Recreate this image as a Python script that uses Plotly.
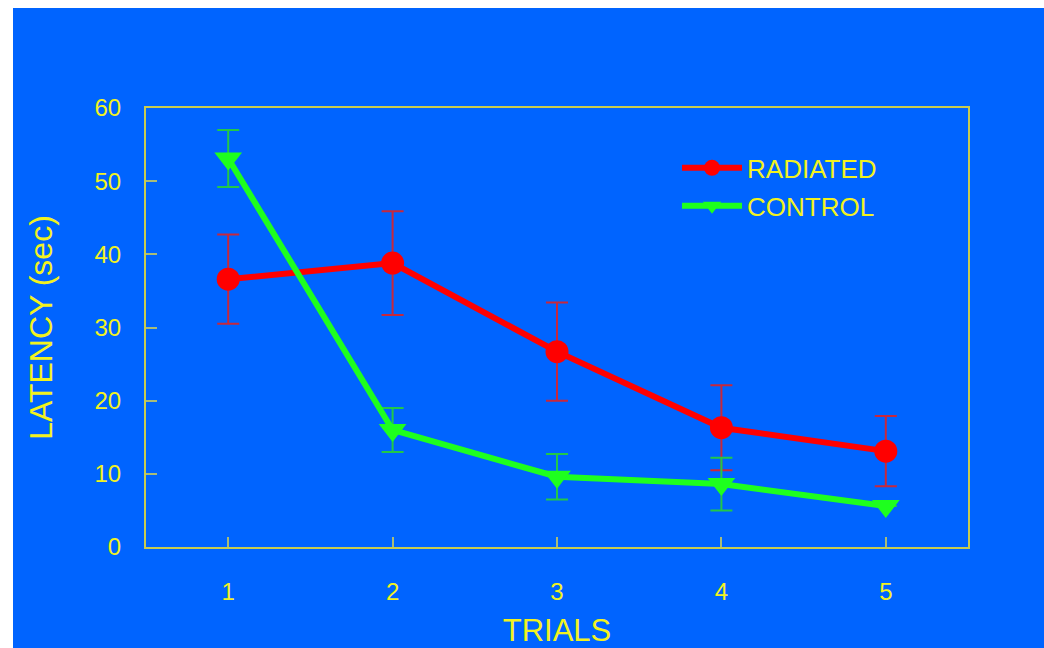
import plotly.graph_objects as go

trials = [1, 2, 3, 4, 5]
radiated = [36.6, 38.8, 26.7, 16.3, 13.1]
radiated_err = [6.1, 7.1, 6.7, 5.8, 4.8]
control = [53.1, 16.0, 9.6, 8.6, 5.6]
control_err = [3.9, 3.0, 3.1, 3.6, 0.0]
series_names = ["RADIATED", "CONTROL"]
y_ticks = [0, 10, 20, 30, 40, 50, 60]

BLUE = "#0064ff"
YELLOW = "#f2f21e"
AXIS = "#c8cc50"
TICK = "#a8bc78"
FONT = "Liberation Sans, Arial, sans-serif"

fig = go.Figure()
fig.add_trace(go.Scatter(
    x=trials, y=radiated, name=series_names[0], mode="lines+markers",
    line=dict(color="#ff0000", width=6),
    marker=dict(symbol="circle", size=23, color="#ff0000"),
    error_y=dict(type="data", array=radiated_err, color="#c8283c", thickness=2, width=11),
    legendgroup="a",
))
fig.add_trace(go.Scatter(
    x=trials, y=control, name=series_names[1], mode="lines+markers",
    line=dict(color="#1eff1e", width=6),
    marker=dict(symbol="triangle-down", size=24, color="#1eff1e"),
    error_y=dict(type="data", array=control_err, color="#22c848", thickness=2, width=11),
    legendgroup="b",
))

W, H = 1044, 648
ml, mr, mt, mb = 146, 76, 108, 101
pw, ph = W - ml - mr, H - mt - mb
# white strips at the left (13px) and top (8px); the rest of the page is blue
fig.add_shape(type="rect", xref="paper", yref="paper", layer="below",
              x0=-ml / pw, x1=(13 - ml) / pw, y0=-mb / ph, y1=(H - mb) / ph,
              fillcolor="white", line=dict(width=0))
fig.add_shape(type="rect", xref="paper", yref="paper", layer="below",
              x0=-ml / pw, x1=(W - ml) / pw, y0=(H - 8 - mb) / ph, y1=(H - mb) / ph,
              fillcolor="white", line=dict(width=0))

fig.update_layout(
    width=W, height=H,
    margin=dict(l=ml, r=mr, t=mt, b=mb, autoexpand=False),
    paper_bgcolor=BLUE, plot_bgcolor=BLUE,
    font=dict(family=FONT, color=YELLOW, size=24),
    showlegend=True,
    legend=dict(x=0.646, y=0.917, xanchor="left", yanchor="top",
                bgcolor="rgba(0,0,0,0)", font=dict(size=26, color=YELLOW),
                itemwidth=60, tracegroupgap=1),
    xaxis=dict(range=[0.5, 5.5], tickvals=trials, ticks="inside", ticklen=10,
               tickcolor=TICK, tickwidth=2, showgrid=False, zeroline=False,
               showline=True, mirror=True, linecolor=AXIS, linewidth=2,
               automargin=False,
               ticklabelstandoff=22, tickfont=dict(size=24, color=YELLOW),
               title=dict(text="TRIALS", font=dict(size=31, color=YELLOW), standoff=20)),
    yaxis=dict(range=[0, 60], tickvals=y_ticks, ticks="inside", ticklen=11,
               tickcolor=TICK, tickwidth=2, showgrid=False, zeroline=False,
               showline=True, mirror=True, linecolor=AXIS, linewidth=2,
               automargin=False,
               ticklabelstandoff=18, tickfont=dict(size=24, color=YELLOW),
               title=dict(text="LATENCY (sec)", font=dict(size=32, color=YELLOW), standoff=32)),
)

fig.write_html("out.html", config={"displayModeBar": False},
               post_script="document.body.style.margin='0';document.body.style.overflow='hidden';")
